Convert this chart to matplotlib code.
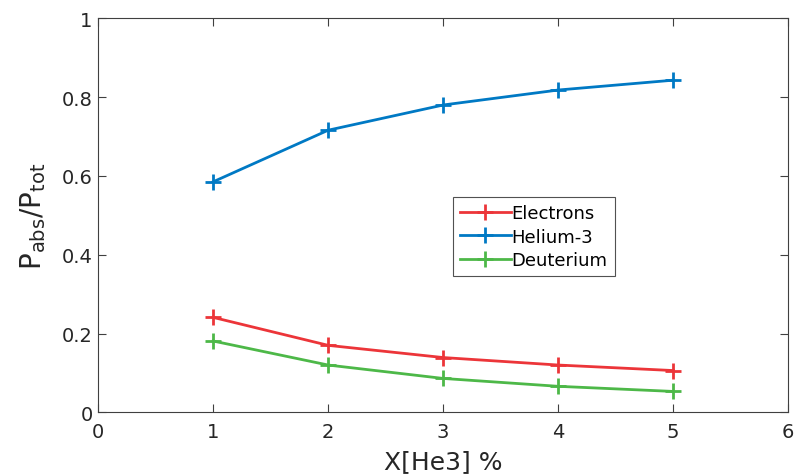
import matplotlib.pyplot as plt

# data
x_he3 = [1, 2, 3, 4, 5]
electrons = [0.241, 0.170, 0.139, 0.120, 0.106]
helium3 = [0.585, 0.716, 0.780, 0.818, 0.843]
deuterium = [0.181, 0.120, 0.086, 0.066, 0.053]

series = [
    ("Electrons", electrons, "#EC3539"),
    ("Helium-3", helium3, "#0079C4"),
    ("Deuterium", deuterium, "#4DB848"),
]

plt.rcParams['font.family'] = ['DejaVu Sans']
plt.rcParams['mathtext.default'] = 'regular'

fig = plt.figure(figsize=(7.94, 4.77), dpi=100)
ax = fig.add_axes([0.1235, 0.1335, 0.8693, 0.826])

for name, vals, col in series:
    ax.plot(x_he3, vals, color=col, lw=2, marker='+', ms=11, mew=2, label=name)

ax.set_xlim(0, 6)
ax.set_ylim(0, 1)
ax.set_xticks(range(0, 7))
ax.set_yticks([0, 0.2, 0.4, 0.6, 0.8, 1])
ax.set_yticklabels(['0', '0.2', '0.4', '0.6', '0.8', '1'])
ax.tick_params(direction='in', length=6, width=0.8, colors='#404040',
               labelcolor='#262626', labelsize=14, top=True, right=True)
ax.tick_params(axis='x', pad=7)
ax.tick_params(axis='y', pad=4)
for s in ax.spines.values():
    s.set_color('#404040')
    s.set_linewidth(0.8)

ax.set_xlabel('X[He3] %', fontsize=18, color='#262626', labelpad=6)
ax.set_ylabel('$P_{abs}/P_{tot}$', fontsize=20, color='#262626', labelpad=10)

leg = ax.legend(loc='lower left', bbox_to_anchor=(0.514, 0.345), fontsize=13,
                frameon=True, fancybox=False, handlelength=2.8, handletextpad=0.05,
                borderpad=0.4, labelspacing=0.3, borderaxespad=0)
leg.get_frame().set_edgecolor('#262626')
leg.get_frame().set_linewidth(0.8)

fig.savefig('out.png', dpi=100)
